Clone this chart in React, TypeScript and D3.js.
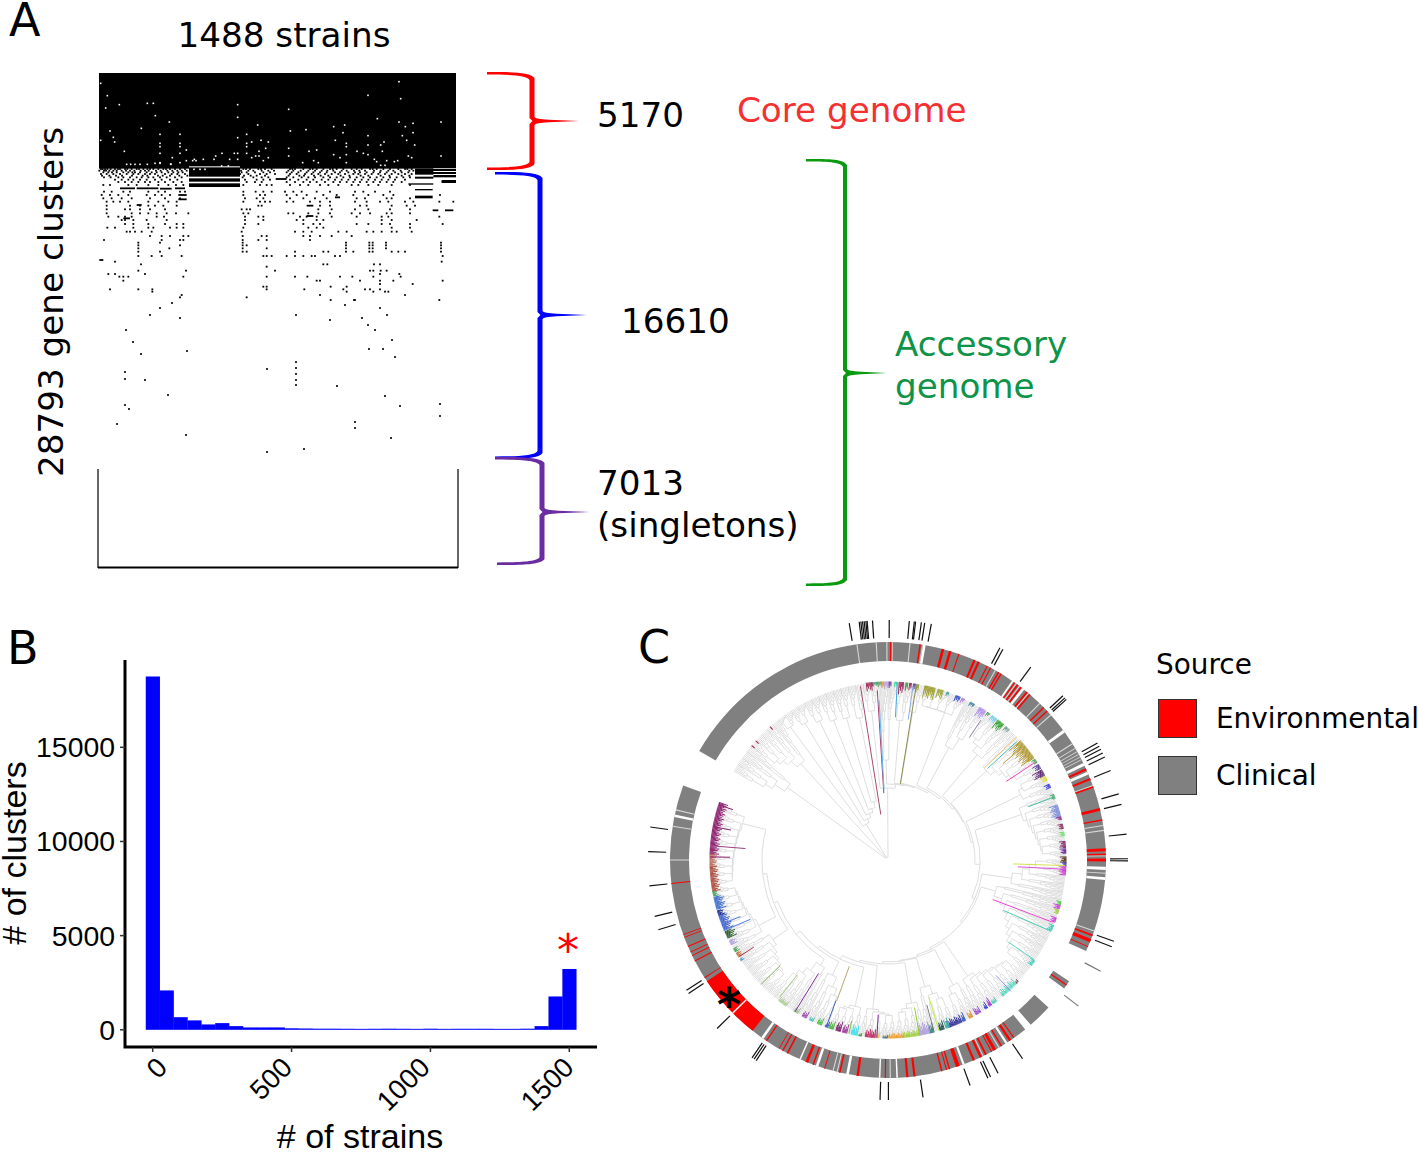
import React from 'react';
import * as d3 from 'd3';

const FONT = '"DejaVu Sans", sans-serif';
const ARIAL = '"Liberation Sans", sans-serif';

// Panel A: presence matrix, in small bins (a bin is about 1.4 strains / 19 clusters)
const coreBlocks = [
  [27, 1098, 39, 326],
  [297, 450, 320, 381],
  [975, 1098, 326, 345],
  [1030, 1098, 345, 352],
  [1055, 1098, 360, 369],
  [975, 1030, 350, 356],
  [955, 1030, 370, 374],
  [975, 1028, 387, 391],
  [975, 1028, 407, 415],
];
const whiteBands = [
  [297, 450, 319, 322],
  [297, 450, 350, 355],
  [297, 450, 365, 370],
  [1030, 1098, 324, 326],
  [1030, 1098, 333, 336],
  [1030, 1098, 342, 345],
  [975, 1030, 344, 348],
  [557, 590, 336, 340],
];
const blackDashes = [
  [557, 590, 357],
  [90, 135, 385],
  [140, 205, 385],
  [210, 245, 386],
  [255, 285, 385],
  [265, 290, 405],
  [265, 290, 418],
  [28, 40, 600],
  [650, 670, 437],
  [650, 670, 468],
  [735, 750, 412],
  [140, 155, 435],
  [100, 120, 475],
  [1028, 1045, 451],
  [1065, 1090, 451],
  [1055, 1090, 365],
];
const whiteDots = [
  [32, 70], [52, 107], [47, 144], [88, 134], [172, 130], [190, 130], [196, 167], [238, 186], [154, 205], [60, 213],
  [70, 232], [32, 241], [74, 246], [103, 274], [210, 223], [210, 250], [210, 260], [270, 223], [270, 250], [270, 260],
  [289, 270], [210, 280], [270, 280], [247, 293], [289, 302], [270, 308], [243, 313], [210, 308], [443, 134], [443, 172],
  [443, 233], [503, 195], [470, 223], [470, 250], [470, 260], [485, 246], [513, 241], [535, 246], [527, 265], [507, 274],
  [470, 280], [485, 293], [497, 288], [507, 288], [535, 293], [520, 302], [596, 148], [601, 213], [648, 209], [596, 265],
  [657, 274], [680, 270], [596, 288], [731, 200], [764, 195], [759, 218], [736, 241], [769, 250], [769, 260], [731, 284],
  [750, 293], [769, 284], [769, 308], [638, 308], [671, 302], [685, 308], [834, 106], [927, 65], [932, 116], [862, 176],
  [927, 186], [946, 200], [969, 190], [969, 218], [937, 227], [950, 241], [974, 255], [834, 227], [834, 255], [872, 255],
  [882, 246], [877, 274], [801, 274], [820, 280], [834, 284], [853, 298], [860, 305], [1053, 186], [1053, 288], [955, 288],
  [965, 293], [923, 302], [913, 305], [890, 302], [872, 316], [885, 316], [313, 298], [340, 298], [377, 288], [372, 298],
  [396, 280], [433, 280], [443, 280], [419, 298], [443, 298], [308, 302], [318, 302], [110, 313], [122, 313], [135, 313],
  [150, 313], [172, 313], [195, 310], [210, 310], [242, 312], [312, 328], [330, 328], [345, 328], [395, 318], [415, 318],
];
const blackRows: [number, number[]][] = [
  [327, [33, 38, 45, 52, 62, 75, 84, 90, 105, 112, 125, 140, 147, 160, 172, 180, 190, 205, 220, 228, 240, 255, 270, 285, 460, 468, 480, 505, 513, 525, 545, 600, 607, 615, 640, 660, 668, 680, 700, 720, 728, 740, 760, 785, 800, 815, 840, 848, 860, 880, 900, 925, 945, 952, 965]],
  [332, [28, 42, 48, 58, 70, 80, 95, 108, 120, 133, 152, 165, 176, 198, 212, 232, 247, 262, 275, 290, 453, 475, 490, 515, 535, 552, 595, 610, 632, 655, 675, 695, 712, 730, 755, 770, 792, 808, 825, 852, 872, 895, 910, 932, 958, 970]],
  [337, [40, 55, 66, 80, 100, 115, 127, 135, 150, 170, 185, 200, 215, 235, 250, 265, 278, 455, 470, 495, 520, 540, 590, 605, 625, 650, 670, 690, 710, 735, 750, 775, 795, 810, 830, 850, 870, 890, 915, 935, 955]],
  [342, [33, 50, 70, 90, 110, 130, 145, 165, 180, 195, 225, 245, 262, 285, 450, 475, 510, 530, 555, 600, 620, 645, 665, 685, 705, 725, 745, 765, 790, 805, 825, 845, 865, 885, 905, 925, 945, 965]],
  [347, [36, 58, 78, 96, 126, 158, 172, 204, 218, 240, 268, 292, 462, 482, 500, 525, 596, 628, 642, 672, 692, 715, 752, 778, 812, 835, 872, 898, 935, 958]],
  [352, [42, 62, 85, 100, 120, 140, 155, 175, 190, 210, 230, 255, 275, 458, 490, 515, 535, 590, 610, 635, 655, 675, 700, 720, 740, 760, 780, 800, 820, 840, 860, 880, 900, 920, 940, 960]],
  [359, [75, 95, 115, 130, 150, 170, 195, 215, 240, 262, 465, 500, 520, 540, 600, 625, 650, 670, 695, 715, 735, 755, 775, 795, 815, 835, 855, 875, 895, 915, 945]],
  [366, [85, 105, 125, 145, 165, 180, 205, 225, 250, 275, 470, 495, 515, 590, 615, 640, 660, 680, 705, 730, 750, 770, 790, 810, 830, 850, 870, 890, 910, 935]],
  [375, [40, 60, 115, 140, 175, 205, 235, 258, 280, 460, 510, 530, 545, 600, 630, 655, 690, 715, 745, 785, 805, 835, 865, 905, 960]],
  [395, [42, 65, 100, 120, 175, 205, 225, 270, 285, 460, 497, 520, 545, 585, 610, 635, 680, 720, 795, 820, 855, 900]],
  [405, [35, 60, 85, 115, 170, 195, 215, 240, 460, 510, 525, 590, 620, 650, 700, 740, 790, 835, 880, 910, 1050]],
  [415, [40, 65, 95, 125, 180, 225, 270, 465, 500, 520, 600, 640, 675, 710, 800, 825, 890, 905, 960]],
  [425, [50, 70, 90, 115, 175, 205, 235, 260, 460, 510, 525, 540, 590, 610, 660, 690, 720, 795, 830, 870, 895, 945, 970, 1048, 1090]],
  [437, [50, 120, 150, 175, 195, 220, 260, 505, 515, 690, 720, 810, 830, 905, 950, 975]],
  [448, [50, 105, 120, 150, 180, 225, 455, 470, 480, 685, 725, 795, 835, 900, 960]],
  [460, [50, 125, 150, 175, 200, 230, 258, 295, 460, 475, 595, 610, 655, 685, 720, 785, 810, 840, 890, 905, 960]],
  [470, [55, 85, 105, 125, 200, 222, 465, 505, 520, 630, 650, 680, 725, 800, 875, 895, 1048]],
  [480, [95, 105, 130, 170, 230, 465, 520, 620, 640, 680, 700, 875, 905, 980]],
  [492, [105, 130, 175, 225, 260, 280, 465, 505, 640, 670, 690, 800, 835, 875, 900, 960, 1058]],
  [503, [52, 75, 130, 175, 190, 240, 260, 280, 460, 655, 680, 700, 905, 960]],
  [515, [110, 120, 135, 155, 185, 455, 615, 640, 665, 745, 770, 830, 850, 875, 905, 920, 965]],
  [528, [180, 215, 240, 280, 295, 458, 515, 530, 640, 660, 690, 725, 785]],
  [540, [42, 215, 270, 280, 458, 505, 530, 660]],
  [548, [145, 210, 458, 768, 838, 848, 888, 1053]],
  [556, [145, 270, 458, 470, 768, 838, 848, 888, 1053]],
  [565, [145, 238, 458, 530, 768, 838, 848, 888, 1053]],
  [575, [145, 210, 458, 470, 615, 700, 715, 768, 790, 838, 848, 905, 925, 945, 1053]],
  [588, [145, 185, 215, 275, 520, 530, 545, 590, 615, 640, 665, 675, 735, 750, 1058]],
  [605, [75, 1055]],
  [613, [153, 700, 712, 852, 870]],
  [620, [530]],
  [632, [145, 288, 555, 840, 850, 872, 890]],
  [642, [55, 75, 165, 870, 928]],
  [650, [88, 100, 115, 280, 530, 615, 652, 750, 787, 850, 932]],
  [662, [100, 680, 690, 810, 870, 910, 1058]],
  [672, [870, 968]],
  [680, [520, 530, 722, 770]],
  [688, [60, 145, 187, 530, 643, 760, 825, 840, 870]],
  [695, [187, 770, 850, 885, 895]],
  [705, [275, 690, 945]],
  [712, [270, 470]],
  [720, [722, 792, 1048, 795]],
  [729, [246]],
  [735, [765]],
  [744, [210, 870]],
  [765, [180, 618, 891]],
  [774, [270, 816]],
  [780, [720]],
  [795, [834]],
  [810, [108, 855]],
  [840, [906]],
  [846, [129]],
  [867, [837, 879]],
  [873, [291]],
  [882, [153]],
  [891, [915]],
  [906, [618]],
  [924, [618]],
  [927, [531]],
  [936, [105]],
  [942, [618]],
  [957, [105]],
  [960, [165, 618]],
  [975, [618]],
  [978, [741]],
  [1005, [234]],
  [1008, [885]],
  [1032, [1050]],
  [1035, [105]],
  [1038, [930]],
  [1047, [117]],
  [1068, [1050]],
  [1086, [795]],
  [1092, [81]],
  [1104, [795]],
  [1125, [288]],
  [1134, [903]],
  [1167, [642]],
  [1176, [531]],
];

// Panel B: histogram of clusters per strain count
const binCenters = d3.range(0, 1501, 50);
const clusterCounts = [18760, 2090, 670, 500, 285, 355, 195, 125, 125, 125, 80, 70, 60, 60, 55, 50, 55, 60, 55, 50, 60, 50, 55, 55, 55, 50, 50, 60, 195, 1770, 3230];
const strainTicks = [0, 500, 1000, 1500];
const strainLabelNudge = [11, -3, -4, 1];
const clusterTicks = [0, 5000, 10000, 15000];

// Panel C: source ring, degrees clockwise from north. [centre, width]
const ringSegments = [[-60, 114.7], [123.8, 126.1], [132.6, 139.1], [141, 290]];
const environmental = [
  [0.7, 0.3], [8.5, 0.4], [14.6, 0.7], [16.6, 0.7], [19, 0.3], [23.4, 0.6], [24.6, 0.6], [27.1, 0.3], [28.1, 0.3],
  [30.5, 0.4], [31.3, 0.4], [35.5, 0.35], [36.5, 0.45], [37.6, 0.45], [39.6, 0.5], [40.6, 0.45], [45.6, 0.4], [46.9, 0.4],
  [65.4, 0.6], [68.2, 0.6], [70.4, 0.45], [76.6, 0.75], [79.4, 0.4], [87.3, 0.75], [88.5, 0.45], [90, 0.75], [110.2, 0.5],
  [111.7, 0.95], [113.4, 0.25], [125, 0.35], [144.7, 0.3], [145.9, 0.65], [148.6, 0.4], [150.7, 0.8], [151.6, 0.3], [153.3, 0.5],
  [154.8, 0.65], [156.8, 0.6], [161.3, 1.05], [163.6, 0.4], [164.4, 0.3], [165.7, 0.4], [173, 0.6], [174.9, 0.6], [180.7, 0.3],
  [188, 0.65], [192.8, 0.45], [196.9, 0.25], [200.1, 0.4], [201.9, 0.75], [207.5, 0.45], [208.9, 0.35], [210, 0.2], [213.9, 0.35],
  [227.3, 17.8], [237.3, 0.25], [242.4, 0.35], [244, 0.25], [245, 0.25], [246.6, 0.3], [249.2, 0.2], [250, 0.2], [263.8, 0.3],
];
const ringGaps = [
  [-8.2, 0.3], [-3.1, 0.3], [-0.3, 0.3], [1.2, 0.2], [5.8, 0.3], [9.1, 0.2], [9.6, 0.7], [29.5, 0.3], [34.9, 0.5], [36, 0.25],
  [37.1, 0.25], [38.3, 0.7], [40.1, 0.25], [44.1, 0.3], [48.3, 0.3], [53.8, 0.8], [57.8, 0.3], [59.2, 0.2], [60.2, 0.2],
  [61, 0.2], [61.8, 0.2], [62.6, 0.2], [64, 0.8], [66.5, 0.8], [70, 0.25], [80.9, 0.3], [82.2, 0.3], [88.9, 0.2], [92.2, 0.8],
  [93.5, 0.25], [94.9, 0.7], [109, 0.3], [147.1, 0.6], [149.4, 0.3], [154.1, 0.25], [159.7, 0.6], [177.6, 0.4], [179.4, 0.3],
  [182.2, 0.4], [190.7, 0.7], [193.5, 0.3], [194.6, 0.3], [199, 0.7], [203.8, 0.4], [215.2, 0.7], [225.4, 0.4], [270, 0.3],
  [278.9, 0.3], [281.7, 0.7], [283.3, 0.3],
];
const blackTicks = [
  -9.3, -6.9, -6.5, -6.1, -5.7, -5.3, -5, -3.7, 0.3, 5.1, 6.3, 6.6, 8, 8.8, 10.4, 27.8, 28.6, 36.5, 46.8, 47.5, 48,
  60.8, 61.7, 62.5, 63.5, 64.6, 68.1, 74, 76.6, 83.8, 89.7, 90.2, 109.8, 111.2, 145.9, 152.7, 154.7, 155.4, 160, 171.6,
  179.9, 181.9, 213.3, 213.9, 214.5, 225.4, 236.2, 237.1, 253.1, 256.4, 263.8, 272, 277.9,
];
const greyTicks = [117.6, 127.5];

// Panel C: backbone of the tree. [node radius, clade start, clade end, clade stem radius]
const fanRows = [
  [42, -38, -33, 165], [46, -33, -28, 160], [50, -28, -23, 155], [54, -23, -18, 150], [60, -18, -13, 148], [66, -13, -8, 145],
];
const trunkRows = [
  [72, -8, -3, 150], [76, -3, 3, 100], [77, 3, 8, 140], [78, 8, 12, 150], [80, 12, 26, 158], [82, 26, 34, 128], [84, 34, 45, 138],
  [85, 45, 60, 133], [87, 60, 68, 148], [92, 68, 90, 141], [95, 90, 103, 125], [97, 103, 130, 112], [99, 130, 150, 141],
  [101, 150, 158, 141], [102, 158, 168, 132], [104, 168, 178, 145], [106, 178, 190, 150], [110, 190, 200, 150],
  [113, 200, 210, 128], [118, 210, 222, 125], [122, 222, 240, 140], [126, 240, 262, 145], [130, 262, 289, 150],
];
// [angle, inner radius, outer radius, colour]
const longBranches: [number, number, number, string][] = [
  [-9, 46, 176, '#a84a70'], [-3.6, 67, 170, '#a04070'], [-3.2, 70, 160, '#60b8f0'], [3, 143, 178, '#40a8e0'], [8.2, 142, 175, '#90b0e0'],
  [9.2, 77, 178, '#8a8a50'], [33.6, 147, 168, '#9080a0'], [46.3, 133, 178, '#f0c070'], [47.4, 135, 175, '#50c0c0'], [50, 150, 176, '#c0a040'],
  [56.4, 142, 176, '#f040c0'], [69.2, 150, 178, '#40c090'], [91.8, 125, 177, '#d8e050'], [93, 130, 176, '#e050e0'], [110.7, 112, 176, '#f040d0'],
  [113.6, 126, 178, '#40d0b0'], [124.3, 146, 177, '#50d8c0'], [136.9, 158, 180, '#9090f0'], [163.4, 143, 178, '#c0f040'], [165, 150, 175, '#808080'],
  [169.8, 150, 178, '#90d030'], [183.6, 155, 178, '#8020a0'], [192.7, 165, 178, '#70d040'], [200, 113, 150, '#b8a878'], [200.3, 150, 178, '#4060c0'],
  [211.5, 133, 178, '#8030a0'], [218.3, 146, 175, '#a0c880'], [225.6, 151, 178, '#80b060'], [237, 160, 177, '#b03050'], [246.7, 150, 179, '#5080e0'],
  [249, 158, 178, '#5080e0'], [271, 158, 178, '#902070'], [274.6, 143, 178, '#a04080'], [280.8, 160, 178, '#902070'], [288, 163, 178, '#902070'],
];
// [start angle, end angle, depth, colour]
const tipColors: [number, number, number, string][] = [
  [-7, -4.8, 8, '#a0305a'], [-4.8, -3.2, 4, '#50a080'], [-3.2, -2, 5, '#60a060'], [-2, -1.2, 6, '#f0a030'], [-1.2, 0.2, 7, '#c0a0e0'], [0.4, 1, 6, '#7040a0'],
  [2.2, 3, 5, '#40e0a0'], [3.6, 5, 12, '#a03060'], [5.8, 6.6, 8, '#40a050'], [7, 7.6, 7, '#a03060'], [8.3, 9, 7, '#6050b0'], [9.4, 10.2, 8, '#a0a040'],
  [12, 15.5, 12, '#a0a030'], [16.4, 18.2, 9, '#a0a840'], [19.4, 20.2, 4, '#40a0a0'], [22.5, 24, 6, '#3050d0'], [24.6, 25.5, 5, '#b080e0'], [27.6, 29, 4, '#4080a0'],
  [31, 33.5, 10, '#b090f0'], [34, 35, 4, '#40a050'], [35.8, 38, 6, '#70d0f0'], [38.2, 40.6, 10, '#30a030'], [41.5, 43, 5, '#70a090'], [48, 55, 15, '#b09830'],
  [55.6, 56.8, 4, '#40a050'], [57.6, 59, 7, '#6040a0'], [59.6, 61.8, 11, '#60307a'], [62, 63.4, 6, '#e0e040'], [64.8, 66, 6, '#4040e0'], [68.4, 69.8, 4, '#50b070'],
  [72, 76, 9, '#8090e0'], [76, 77, 5, '#903090'], [78.4, 80, 5, '#903060'], [81, 82.2, 5, '#70e070'], [84, 86, 6, '#903070'], [86.4, 88, 6, '#7030a0'], [89, 91, 6, '#604030'],
  [91, 92, 4, '#4040d0'], [92, 95, 7, '#d040d0'], [103.6, 104.8, 5, '#50d050'], [104.8, 106, 7, '#d040e0'], [106.4, 107.6, 5, '#a0d040'], [109, 110.6, 6, '#d040e0'],
  [111.6, 113.4, 5, '#40d0c0'], [124.6, 126.4, 5, '#40d0c0'], [133, 134, 3, '#603040'], [134, 140, 7, '#50d8c0'], [142.4, 144, 5, '#40d0b0'], [144.4, 145.4, 9, '#a030d0'],
  [146, 147, 7, '#3040d0'], [148.6, 150.4, 7, '#a050d0'], [151.6, 152.8, 7, '#e09030'], [154.2, 155.2, 9, '#3050c0'], [155.5, 160, 8, '#30309a'], [159.8, 161, 10, '#40b0a0'],
  [161.6, 163, 9, '#205050'], [165, 166.4, 10, '#30807a'], [166.4, 170, 12, '#b0a0e0'], [170, 175, 6, '#a0d040'], [175, 180, 5, '#f0a030'], [180.2, 181.6, 3, '#507880'],
  [183, 184.2, 5, '#e0c040'], [184.2, 187.4, 8, '#c03060'], [188.6, 189.6, 3, '#40a050'], [190, 192, 10, '#40e0f0'], [193.4, 195, 9, '#a040a0'], [195.6, 197, 10, '#802070'],
  [198, 199.4, 8, '#50b040'], [199.8, 200.8, 6, '#4060c0'], [202, 203.4, 7, '#50c050'], [205, 206.2, 4, '#40c0b0'], [207.4, 209, 7, '#a050b0'], [210.5, 212, 6, '#a0c090'],
  [215, 218, 5, '#a8cc90'], [235.6, 236.4, 4, '#4090c0'], [237, 238.4, 6, '#c07040'], [239, 240.2, 5, '#40a050'], [241.6, 243, 7, '#b0a0e0'], [244, 246.4, 10, '#306030'],
  [247, 252, 10, '#4060d0'], [252, 253.4, 7, '#203090'], [254, 258, 10, '#4070d0'], [258.4, 259.8, 5, '#40a060'], [260, 268, 8, '#b05040'], [268, 272, 7, '#c07060'], [272, 289, 9, '#902070'],
];
const shortTips: [number, number, number, string][] = [[-41.5, 174, 178, '#a03060'], [-48, 174, 178, '#a03060'], [-50, 174, 178, '#a03060']];

type TreeNode = { r: number; a?: number; children?: TreeNode[] };
const TIP = 178;

const rad = (deg: number) => (deg * Math.PI) / 180;
const cx = 888;
const cy = 860;
const polar = (deg: number, r: number): [number, number] => [cx + r * Math.sin(rad(deg)), cy - r * Math.cos(rad(deg))];

// ladder of tips inside one small block
function fan(a0: number, a1: number, r: number): TreeNode {
  const n = Math.max(2, Math.round((a1 - a0) / 0.38));
  const step = (a1 - a0) / (n - 1);
  let node: TreeNode = { r: TIP, a: a1 };
  for (let i = n - 2; i >= 0; i--) {
    node = { r: r + (TIP - 2 - r) * Math.pow(i / (n - 1), 0.6), children: [{ r: TIP, a: a0 + i * step }, node] };
  }
  return node;
}

// clade: staircase of blocks from the stem radius up to the tip circle
function clade(a0: number, a1: number, stem: number, flip: boolean): TreeNode {
  const count = Math.max(1, Math.round((a1 - a0) / 2.6));
  const width = (a1 - a0) / count;
  const blocks = d3.range(count).map((i) => (flip ? count - 1 - i : i));
  const blockAt = (k: number, r: number) => fan(a0 + blocks[k] * width + 0.02, a0 + (blocks[k] + 1) * width - 0.02, r);
  const radius = (k: number) => stem + (TIP - 20 - stem) * Math.pow(k / count, 0.75);
  let node = blockAt(count - 1, radius(count - 1) + 6);
  for (let k = count - 2; k >= 0; k--) {
    node = { r: radius(k), children: [blockAt(k, radius(k) + 8), node] };
  }
  return node;
}

function foldRows(rows: number[][]): TreeNode {
  let node: TreeNode | null = null;
  rows
    .slice()
    .reverse()
    .forEach(([r, a0, a1, stem], i) => {
      const side = clade(a0, a1, stem, i % 2 === 0);
      node = node ? { r, children: [side, node] } : { r, children: [side] };
    });
  return node as unknown as TreeNode;
}

function treePath(): string {
  const data: TreeNode = {
    r: 3,
    a: -6,
    children: [clade(-60, -50, 124, true), clade(-50, -38, 130, true), foldRows(fanRows), foldRows(trunkRows)],
  };
  const root = d3.hierarchy<TreeNode>(data);
  root.eachAfter((n) => {
    if (n.children) {
      if (n.data.a === undefined) n.data.a = d3.mean(n.children, (c) => c.data.a as number);
    }
  });
  const p = d3.path();
  root.each((n) => {
    const a = n.data.a as number;
    if (n.parent) {
      const [x0, y0] = polar(a, n.parent.data.r);
      const [x1, y1] = polar(a, n.data.r);
      p.moveTo(x0, y0);
      p.lineTo(x1, y1);
    }
    if (n.children) {
      const angles = n.children.map((c) => c.data.a as number);
      angles.push(a);
      const lo = d3.min(angles) as number;
      const hi = d3.max(angles) as number;
      const [sx, sy] = polar(lo, n.data.r);
      p.moveTo(sx, sy);
      p.arc(cx, cy, n.data.r, rad(lo - 90), rad(hi - 90));
    }
  });
  return p.toString();
}

// curly bracket as one filled shape, thin at the arms and thick along the spine
function bracePath(x0: number, top: number, x02: number, bottom: number, spine: number, mid: number, tip: number, w: number): string {
  const l = spine - w / 2;
  const rr = spine + w / 2;
  const p = d3.path();
  p.moveTo(x0, top);
  p.bezierCurveTo(x0 + 25, top, rr - 4, top, rr, top + 6);
  p.lineTo(rr, mid - 4);
  p.quadraticCurveTo(rr + 1, mid - 1.9, rr + 14, mid - 1.3);
  p.lineTo(tip, mid);
  p.lineTo(rr + 14, mid + 1.3);
  p.quadraticCurveTo(rr + 1, mid + 1.9, rr, mid + 4);
  p.lineTo(rr, bottom - 6);
  p.bezierCurveTo(rr - 4, bottom, x02 + 25, bottom, x02, bottom);
  p.lineTo(x02, bottom - 2.6);
  p.bezierCurveTo(x02 + 20, bottom - 2.6, l - 2, bottom - 3, l, bottom - 8);
  p.lineTo(l, mid + 3);
  p.lineTo(l + 3, mid);
  p.lineTo(l, mid - 3);
  p.lineTo(l, top + 8);
  p.bezierCurveTo(l - 2, top + 3, x0 + 20, top + 2.6, x0, top + 2.6);
  p.closePath();
  return p.toString();
}

const serration = [1, 0.45, 0.7, 0.35, 0.85, 0.55];

export default function App() {
  const xBin = d3.scaleLinear().domain([27, 1098]).range([99, 456]);
  const yBin = d3.scaleLinear().domain([39, 1524]).range([73, 568]);
  const xStrain = d3.scaleLinear().domain([0, 1500]).range([152.7, 569.3]);
  const yCount = d3.scaleLinear().domain([0, 15000]).range([1029.8, 747.3]);
  const barW = xStrain(50) - xStrain(0);
  const ringArc = d3.arc<number[]>().innerRadius(199).outerRadius(218);
  const arcD = (a0: number, a1: number) =>
    ringArc({ startAngle: rad(a0), endAngle: rad(a1) } as unknown as number[]) as string;

  const tipLines: { d: string; c: string }[] = [];
  tipColors.forEach(([s, e, depth, c]) => {
    const p = d3.path();
    d3.range(s, e + 0.01, 0.28).forEach((a, i) => {
      const [x0, y0] = polar(a, TIP + 0.5);
      const [x1, y1] = polar(a, TIP - depth * serration[i % serration.length]);
      p.moveTo(x0, y0);
      p.lineTo(x1, y1);
    });
    tipLines.push({ d: p.toString(), c });
  });
  const radial = (a: number, r0: number, r1: number) => {
    const [x0, y0] = polar(a, r0);
    const [x1, y1] = polar(a, r1);
    return { x1: x0, y1: y0, x2: x1, y2: y1 };
  };

  return (
    <svg width={1418} height={1152} style={{ position: 'absolute', left: 0, top: 0 }} fontFamily={FONT}>
      <rect width={1418} height={1152} fill="#fff" />
      {/* Panel A */}
      <text x={9} y={36} fontSize={46}>A</text>
      <text x={284} y={47} fontSize={34.2} textAnchor="middle">1488 strains</text>
      <text transform="translate(63,302) rotate(-90)" fontSize={34.2} textAnchor="middle">28793 gene clusters</text>
      {coreBlocks.map(([a, b, c, d], i) => (
        <rect key={i} x={xBin(a)} y={yBin(c)} width={xBin(b) - xBin(a)} height={yBin(d) - yBin(c)} fill="#000" />
      ))}
      {whiteBands.map(([a, b, c, d], i) => (
        <rect key={i} x={xBin(a)} y={yBin(c)} width={xBin(b) - xBin(a)} height={yBin(d) - yBin(c)} fill="#fff" />
      ))}
      {whiteDots.map(([a, b], i) => (
        <rect key={i} x={xBin(a) - 0.8} y={yBin(b) - 0.8} width={1.6} height={1.6} fill="#fff" />
      ))}
      {blackRows.flatMap(([row, cols]) =>
        cols.map((c) => <rect key={`${row}-${c}`} x={xBin(c) - 0.9} y={yBin(row) - 0.9} width={1.8} height={1.8} fill="#000" />)
      )}
      {blackDashes.map(([a, b, c], i) => (
        <rect key={i} x={xBin(a)} y={yBin(c) - 0.9} width={xBin(b) - xBin(a)} height={1.8} fill="#000" />
      ))}
      <path d="M98,469V567.5H458V469" fill="none" stroke="#000" strokeWidth={1.2} />
      <path d="M98,567.5H458" fill="none" stroke="#000" strokeWidth={2} />
      <path d={bracePath(487, 72, 487, 170, 532, 121, 579, 5)} fill="#ff0000" />
      <path d={bracePath(495, 172, 495, 459, 540, 315, 587, 5)} fill="#0000ff" />
      <path d={bracePath(495, 457, 497, 565, 542, 512, 590, 5)} fill="#6a2ca0" />
      <path d={bracePath(806, 159, 806, 586, 845, 373, 887, 4)} fill="#0a9a10" />
      <text x={597} y={127} fontSize={34.2}>5170</text>
      <text x={737} y={122} fontSize={34.2} fill="#f53030">Core genome</text>
      <text x={621} y={333} fontSize={34.2}>16610</text>
      <text x={597} y={495} fontSize={34.2}>7013</text>
      <text x={597} y={537} fontSize={34.2}>(singletons)</text>
      <text x={895} y={356} fontSize={34.2} fill="#0d9448">Accessory</text>
      <text x={895} y={398} fontSize={34.2} fill="#0d9448">genome</text>

      {/* Panel B */}
      <text x={7} y={664} fontSize={46}>B</text>
      {binCenters.map((c, i) => (
        <rect key={c} x={xStrain(c) - barW / 2} y={yCount(clusterCounts[i])} width={barW + 0.3} height={yCount(0) - yCount(clusterCounts[i])} fill="#0000ff" />
      ))}
      <path d="M125,660V1048.5M123.5,1047H597" fill="none" stroke="#000" strokeWidth={3} />
      {clusterTicks.map((t) => (
        <g key={t}>
          <line x1={120} x2={125} y1={yCount(t)} y2={yCount(t)} stroke="#333" strokeWidth={1.5} />
          <text x={115} y={yCount(t) + 10} fontSize={28.4} textAnchor="end" fontFamily={ARIAL}>{t}</text>
        </g>
      ))}
      {strainTicks.map((t, i) => (
        <g key={t}>
          <line x1={xStrain(t)} x2={xStrain(t)} y1={1047} y2={1052} stroke="#333" strokeWidth={1.5} />
          <text transform={`translate(${xStrain(t) + strainLabelNudge[i]},${1064}) rotate(-45)`} fontSize={27.5} textAnchor="end" dominantBaseline="middle" fontFamily={ARIAL}>{t}</text>
        </g>
      ))}
      <text x={360} y={1148} fontSize={34} textAnchor="middle" fontFamily={ARIAL}># of strains</text>
      <text transform="translate(26,853) rotate(-90)" fontSize={34} textAnchor="middle" fontFamily={ARIAL}># of clusters</text>
      <text x={568} y={966} fontSize={44} textAnchor="middle" fill="#ff0000">*</text>

      {/* Panel C */}
      <text x={638} y={663} fontSize={46}>C</text>
      <path d={treePath()} fill="none" stroke="#d6d6d6" strokeWidth={0.8} />
      {tipLines.map((t, i) => (
        <path key={i} d={t.d} fill="none" stroke={t.c} strokeWidth={1} />
      ))}
      {longBranches.map(([a, r0, r1, c], i) => (
        <line key={i} {...radial(a, r0, r1)} stroke={c} strokeWidth={1} />
      ))}
      {shortTips.map(([a, r0, r1, c], i) => (
        <line key={i} {...radial(a, r0, r1)} stroke={c} strokeWidth={1.2} />
      ))}
      <g transform={`translate(${cx},${cy})`}>
        {ringSegments.map(([a, b], i) => (
          <path key={i} d={arcD(a, b)} fill="#808080" />
        ))}
        {environmental.map(([a, w], i) => (
          <path key={i} d={arcD(a - w / 2, a + w / 2)} fill="#ff0000" />
        ))}
        {ringGaps.map(([a, w], i) => (
          <path key={i} d={arcD(a - w / 2, a + w / 2)} fill={w < 0.35 ? '#d8d8d8' : '#fff'} />
        ))}
      </g>
      {blackTicks.map((a, i) => (
        <line key={i} {...radial(a, 222, 240)} stroke="#111" strokeWidth={1.2} />
      ))}
      {greyTicks.map((a, i) => (
        <line key={i} {...radial(a, 222, 240)} stroke="#777" strokeWidth={1.2} />
      ))}
      <text x={729} y={1021} fontSize={46} fontWeight="bold" textAnchor="middle">*</text>

      {/* Legend */}
      <text x={1156} y={674} fontSize={27.9}>Source</text>
      <rect x={1158.5} y={699.5} width={38} height={38} fill="#ff0000" stroke="#333" />
      <rect x={1158.5} y={756.5} width={38} height={38} fill="#808080" stroke="#333" />
      <text x={1216} y={728} fontSize={27.9}>Environmental</text>
      <text x={1216} y={785} fontSize={27.9}>Clinical</text>
    </svg>
  );
}
